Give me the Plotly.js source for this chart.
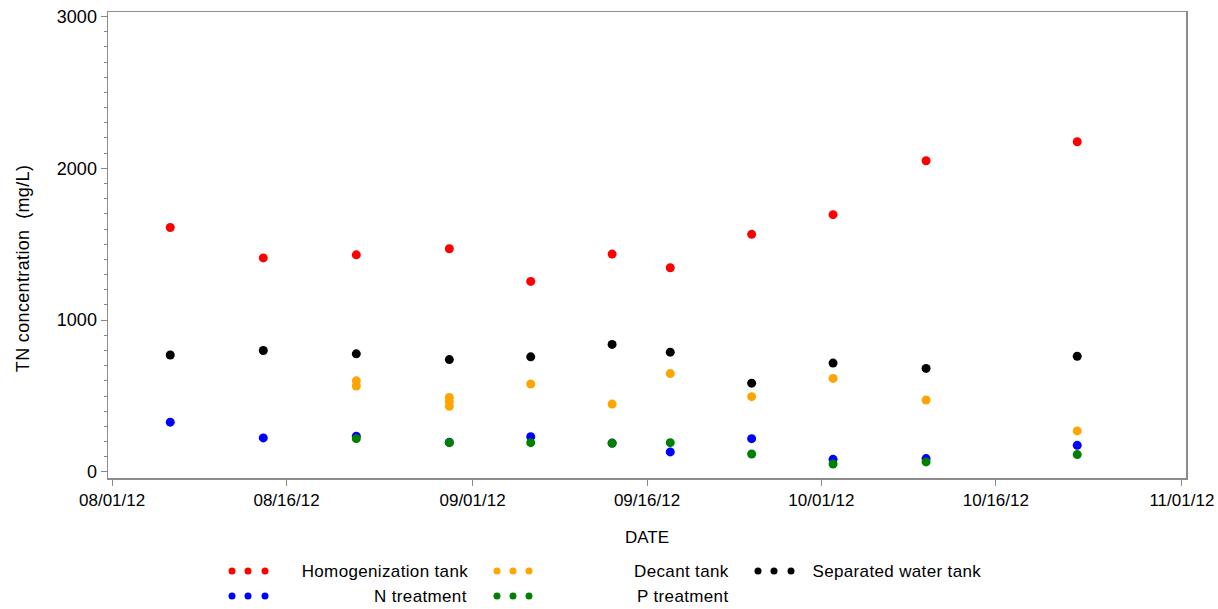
<!DOCTYPE html>
<html>
<head>
<meta charset="utf-8">
<script src="https://cdn.plot.ly/plotly-3.0.1.min.js"></script>
<style>
  html, body { margin: 0; padding: 0; background: #ffffff; }
  #chart { width: 1218px; height: 609px; }
  /* slightly open tracking for the legend labels */
  #chart .annotation-text { letter-spacing: 0.35px; }
</style>
</head>
<body>
<div id="chart"></div>
<script>
// Sampling dates for the tanks measured on every visit
const sampleDates = ['2012-08-06', '2012-08-14', '2012-08-22', '2012-08-30', '2012-09-06',
  '2012-09-13', '2012-09-18', '2012-09-25', '2012-10-02', '2012-10-10', '2012-10-23'];

// TN concentration (mg/L) per tank
const homogenizationTank = [1610, 1410, 1430, 1470, 1255, 1435, 1345, 1565, 1695, 2050, 2175];
const separatedWaterTank = [770, 800, 778, 740, 758, 840, 789, 585, 717, 682, 762];
const nTreatment = [328, 224, 235, 195, 232, 190, 132, 219, 83, 88, 175];
const pTreatment = [null, null, 219, 193, 193, 189, 193, 118, 52, 66, 114];

// Decant tank has repeated samples on some dates
const decantDates = ['2012-08-22', '2012-08-22', '2012-08-30', '2012-08-30', '2012-08-30',
  '2012-09-06', '2012-09-13', '2012-09-18', '2012-09-25', '2012-10-02', '2012-10-10', '2012-10-23'];
const decantTank = [600, 566, 490, 462, 432, 579, 447, 648, 496, 616, 474, 270];

// Axis tick positions and labels
const xTickDates = ['2012-08-01', '2012-08-16', '2012-09-01', '2012-09-16', '2012-10-01', '2012-10-16', '2012-11-01'];
const xTickLabels = ['08/01/12', '08/16/12', '09/01/12', '09/16/12', '10/01/12', '10/16/12', '11/01/12'];
const yTickValues = [0, 1000, 2000, 3000];

// Series names and colours
const legendNames = ['Homogenization tank', 'Decant tank', 'Separated water tank', 'N treatment', 'P treatment'];
const legendColors = ['#ff0000', '#ffa500', '#000000', '#0000ff', '#008000'];

const FONT = 'Liberation Sans, Arial, Helvetica, sans-serif';

function series(name, x, y, color) {
  return {
    type: 'scatter', mode: 'markers', name: name, x: x, y: y,
    marker: { color: color, size: 9, line: { width: 0 } },
    showlegend: false, hoverinfo: 'x+y+name'
  };
}

const traces = [
  series(legendNames[0], sampleDates, homogenizationTank, legendColors[0]),
  series(legendNames[1], decantDates, decantTank, legendColors[1]),
  series(legendNames[2], sampleDates, separatedWaterTank, legendColors[2]),
  series(legendNames[3], sampleDates, nTreatment, legendColors[3]),
  series(legendNames[4], sampleDates, pTreatment, legendColors[4])
];

// Plot box geometry in pixels (used to place the legend and y title)
const W = 1218, H = 609;
const box = { l: 108, r: 1186, t: 12, b: 478 };
const px = x => (x - box.l) / (box.r - box.l);
const py = y => (box.b - y) / (box.b - box.t);

// Legend layout: three dots followed by a label
const legendItems = [
  { i: 0, dots: [232, 248, 265], y: 571, tx: 467, anchor: 'right' },
  { i: 1, dots: [497, 513, 529], y: 571, tx: 729, anchor: 'right' },
  { i: 2, dots: [758, 774, 791], y: 571, tx: 814, anchor: 'left' },
  { i: 3, dots: [232, 248, 265], y: 596, tx: 467, anchor: 'right' },
  { i: 4, dots: [497, 513, 529], y: 596, tx: 729, anchor: 'right' }
];

const shapes = [];
const annotations = [];
legendItems.forEach(item => {
  item.dots.forEach(dx => {
    shapes.push({
      type: 'circle', xref: 'paper', yref: 'paper',
      xsizemode: 'pixel', ysizemode: 'pixel',
      xanchor: px(dx), yanchor: py(item.y),
      x0: -3.5, x1: 3.5, y0: -3.5, y1: 3.5,
      fillcolor: legendColors[item.i], line: { width: 0 }
    });
  });
  annotations.push({
    xref: 'paper', yref: 'paper', x: px(item.tx), y: py(item.y),
    xanchor: item.anchor, yanchor: 'middle', showarrow: false,
    text: legendNames[item.i], font: { family: FONT, size: 17, color: '#000000' }
  });
});

// Y axis title, placed by hand so it sits a little below the box centre
annotations.push({
  xref: 'paper', yref: 'paper', x: px(23), y: py(269),
  xanchor: 'center', yanchor: 'middle', showarrow: false, textangle: -90,
  text: 'TN concentration\u00a0\u00a0(mg/L)', font: { family: FONT, size: 18, color: '#000000' }
});

const layout = {
  width: W, height: H,
  margin: { l: box.l, r: W - box.r, t: box.t, b: H - box.b, pad: 0 },
  paper_bgcolor: '#ffffff', plot_bgcolor: '#ffffff',
  font: { family: FONT, size: 15, color: '#000000' },
  showlegend: false,
  xaxis: {
    type: 'date',
    range: ['2012-07-31 15:30', '2012-11-01 08:30'],
    tickmode: 'array', tickvals: xTickDates, ticktext: xTickLabels,
    ticks: 'outside', ticklen: 6, tickwidth: 1, tickcolor: '#888888',
    showline: true, linecolor: '#8c8c8c', linewidth: 1.5, mirror: true,
    showgrid: false, zeroline: false,
    tickfont: { family: FONT, size: 17, color: '#000000' },
    title: { text: 'DATE', font: { family: FONT, size: 17, color: '#000000' }, standoff: 22 }
  },
  yaxis: {
    range: [-40, 3030],
    tickmode: 'array', tickvals: yTickValues,
    ticks: 'outside', ticklen: 6, tickwidth: 1, tickcolor: '#888888',
    minor: { dtick: 100, tick0: 0, ticks: 'outside', ticklen: 3, tickcolor: '#888888', showgrid: false },
    showline: true, linecolor: '#8c8c8c', linewidth: 1.5, mirror: true,
    showgrid: false, zeroline: false,
    tickfont: { family: FONT, size: 18, color: '#000000' }
  },
  shapes: shapes,
  annotations: annotations
};

Plotly.newPlot('chart', traces, layout, { displayModeBar: false, staticPlot: true });
</script>
</body>
</html>
